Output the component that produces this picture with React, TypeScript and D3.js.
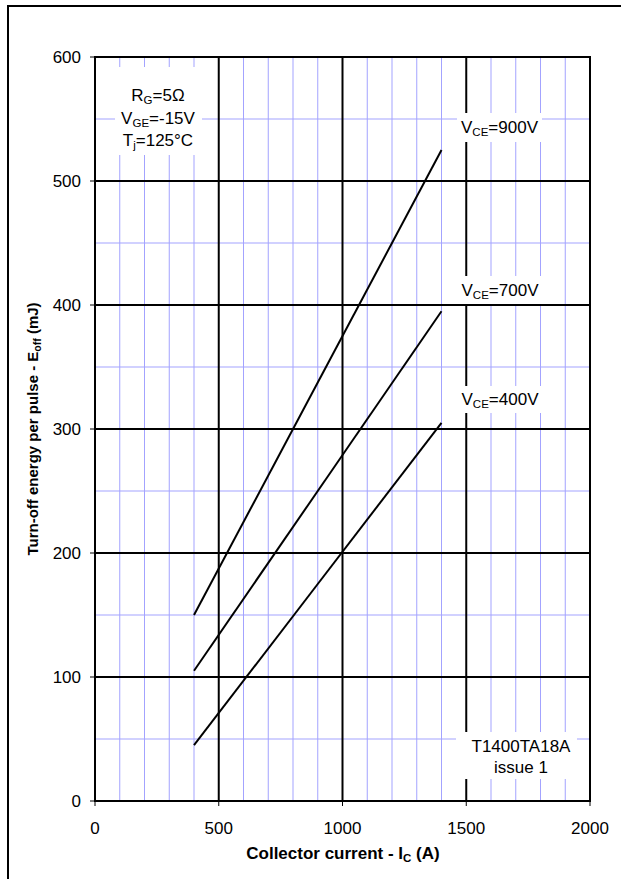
import React from "react";
import * as d3 from "d3";

const currentA = [400, 900, 1400];
const eoff900 = [150, 337.5, 525];
const eoff700 = [105, 250, 395];
const eoff400 = [45, 175, 305];
const xTicks = [0, 500, 1000, 1500, 2000];
const yTicks = [0, 100, 200, 300, 400, 500, 600];
const seriesLabels = ["900V", "700V", "400V"];

const W = 621;
const H = 879;
const L = 95, R = 590, T = 57, B = 801;
const FONT = "'Liberation Sans', Arial, sans-serif";

export default function App() {
  const x = d3.scaleLinear().domain([0, 2000]).range([L, R]);
  const y = d3.scaleLinear().domain([0, 600]).range([B, T]);
  const line = d3
    .line<number>()
    .x((_, i) => x(currentA[i]))
    .y((d) => y(d));
  const series = [eoff900, eoff700, eoff400];
  const minorX = d3.range(100, 2000, 100).filter((v) => v % 500 !== 0);
  const minorY = d3.range(50, 600, 50).filter((v) => v % 100 !== 0);
  const majorX = [500, 1000, 1500];
  const majorY = [100, 200, 300, 400, 500];
  const blue = "#a3a3ff";

  const vceBoxes = [
    { box: [457, 113, 542, 142], cy: 127 },
    { box: [457, 276, 543, 304], cy: 290 },
    { box: [457, 386, 543, 413], cy: 399 },
  ];

  return (
    <svg
      width={W}
      height={H}
      style={{ position: "absolute", left: 0, top: 0, background: "#fff" }}
      fontFamily={FONT}
    >
      <rect x={0} y={0} width={W} height={H} fill="#fff" />
      <line x1={8} y1={6} x2={8} y2={H} stroke="#000" strokeWidth={2} />
      <line x1={7} y1={6} x2={W} y2={6} stroke="#000" strokeWidth={2} />

      {minorX.map((v) => (
        <line key={"mx" + v} x1={x(v)} x2={x(v)} y1={T} y2={B} stroke={blue} strokeWidth={1} />
      ))}
      {minorY.map((v) => (
        <line key={"my" + v} x1={L} x2={R} y1={y(v)} y2={y(v)} stroke={blue} strokeWidth={1} />
      ))}
      {majorX.map((v) => (
        <line key={"Mx" + v} x1={x(v)} x2={x(v)} y1={T} y2={B} stroke="#000" strokeWidth={2} />
      ))}
      {majorY.map((v) => (
        <line key={"My" + v} x1={L} x2={R} y1={y(v)} y2={y(v)} stroke="#000" strokeWidth={2} />
      ))}

      <rect x={115} y={67} width={87} height={88} fill="#fff" />
      {vceBoxes.map((b, i) => (
        <rect key={"b" + i} x={b.box[0]} y={b.box[1]} width={b.box[2] - b.box[0]} height={b.box[3] - b.box[1]} fill="#fff" />
      ))}
      <rect x={456} y={732} width={121} height={47} fill="#fff" />

      {series.map((s, i) => (
        <path key={"s" + i} d={line(s) || ""} fill="none" stroke="#000" strokeWidth={2} />
      ))}

      <rect x={L} y={T} width={R - L} height={B - T} fill="none" stroke="#000" strokeWidth={2} />

      {yTicks.map((v) => (
        <g key={"yt" + v}>
          <line x1={L - 5} x2={L} y1={y(v)} y2={y(v)} stroke="#000" strokeWidth={1} />
          <text x={L - 14} y={y(v) + 6} textAnchor="end" fontSize={17} fill="#000">
            {v}
          </text>
        </g>
      ))}
      {xTicks.map((v) => (
        <g key={"xt" + v}>
          <line x1={x(v)} x2={x(v)} y1={B} y2={B + 5} stroke="#000" strokeWidth={1} />
          <text x={x(v)} y={834} textAnchor="middle" fontSize={17} fill="#000">
            {v}
          </text>
        </g>
      ))}

      <text x={343} y={859} textAnchor="middle" fontSize={17} fontWeight="bold" fill="#000">
        Collector current - I
        <tspan fontSize={11.5} dy={3}>C</tspan>
        <tspan dy={-3}> (A)</tspan>
      </text>
      <text
        transform={`translate(38,${(T + B) / 2}) rotate(-90)`}
        textAnchor="middle"
        fontSize={15}
        fontWeight="bold"
        fill="#000"
      >
        Turn-off energy per pulse - E
        <tspan fontSize={10.5} dy={3}>off</tspan>
        <tspan dy={-3}> (mJ)</tspan>
      </text>

      <g fontSize={17} textAnchor="middle" fill="#000">
        <text x={158} y={101}>
          R<tspan fontSize={11.5} dy={3}>G</tspan>
          <tspan dy={-3}>=5Ω</tspan>
        </text>
        <text x={158} y={124}>
          V<tspan fontSize={11.5} dy={3}>GE</tspan>
          <tspan dy={-3}>=-15V</tspan>
        </text>
        <text x={158} y={146}>
          T<tspan fontSize={11.5} dy={3}>j</tspan>
          <tspan dy={-3}>=125°C</tspan>
        </text>
      </g>

      {vceBoxes.map((b, i) => (
        <text key={"l" + i} x={(b.box[0] + b.box[2]) / 2} y={b.cy + 6} textAnchor="middle" fontSize={17} fill="#000">
          V<tspan fontSize={11.5} dy={3}>CE</tspan>
          <tspan dy={-3}>={seriesLabels[i]}</tspan>
        </text>
      ))}

      <g fontSize={17} textAnchor="middle" fill="#000">
        <text x={521} y={752}>T1400TA18A</text>
        <text x={521} y={773}>issue 1</text>
      </g>
    </svg>
  );
}
